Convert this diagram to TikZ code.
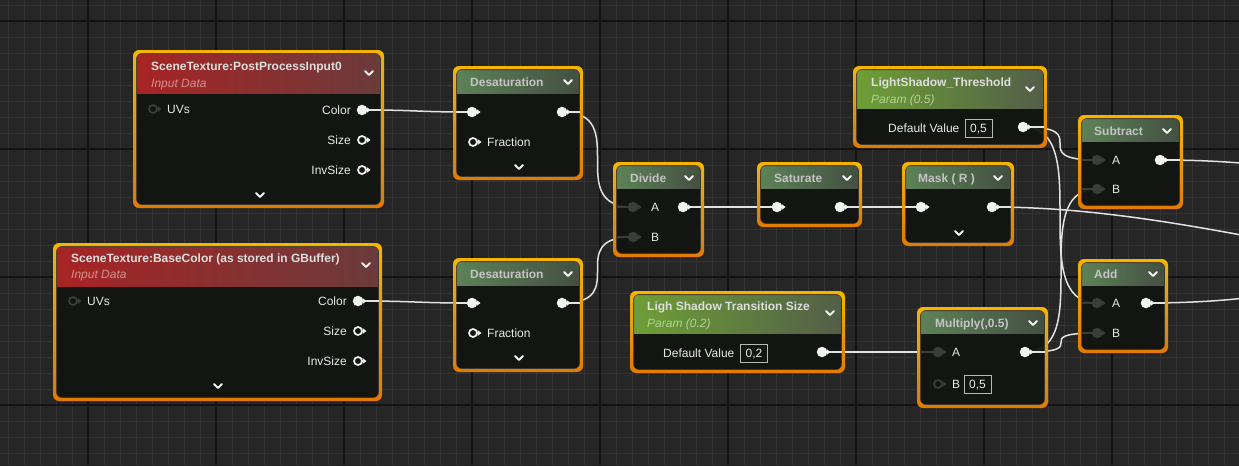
\documentclass[tikz,border=0pt]{standalone}
\usepackage{fontspec}
\setmainfont{Liberation Sans}
\usetikzlibrary{fit}
\definecolor{bgcol}{HTML}{262626}
\definecolor{minorcol}{HTML}{333333}
\definecolor{majorcol}{HTML}{131313}
\definecolor{bodycol}{HTML}{121412}
\definecolor{innerline}{HTML}{3A3731}
\definecolor{bordtop}{HTML}{F6B400}
\definecolor{bordbot}{HTML}{E27A00}
\definecolor{titleG}{HTML}{C4C4C4}
\definecolor{titleP}{HTML}{DEDEDE}
\definecolor{subR}{HTML}{D49090}
\definecolor{subP}{HTML}{B4D494}
\definecolor{lblcol}{HTML}{E8E8E8}
\definecolor{boxcol}{HTML}{B8B8B8}
\definecolor{pinwhite}{HTML}{F2F2F2}
\definecolor{pindark}{HTML}{3C3C3C}
\definecolor{wirecol}{HTML}{E2E2E2}
\definecolor{gL}{HTML}{5E8258}
\definecolor{gR}{HTML}{434F41}
\definecolor{pL}{HTML}{6E9F36}
\definecolor{pM}{HTML}{4F7A2A}
\definecolor{pR}{HTML}{525E48}
\definecolor{rL}{HTML}{A82424}
\definecolor{rM}{HTML}{7C1111}
\definecolor{rR}{HTML}{6B3B3B}
\pgfdeclarelayer{grid}
\pgfdeclarelayer{wires}
\pgfsetlayers{grid,wires,main}
\newcommand\uenode[7]{%
  \node[fit={(#2,#3) (#4,#5)}, inner sep=0pt, outer sep=0pt] (#1) {};
  \fill[bodycol, fill opacity=.92, rounded corners=5pt] (#2+2,#3+2) rectangle (#4-2,#5-2);
  \begin{scope}
    \clip[rounded corners=4pt] (#2+3,#3+3) rectangle (#4-3,#5-3);
    \shade[#7] (#2+3,#3+3) rectangle (#4-3,#6);
  \end{scope}
  \draw[draw=innerline, line width=1pt, rounded corners=4pt] (#2+3.5,#3+3.5) rectangle (#4-3.5,#5-3.5);
  \shade[top color=bordtop, bottom color=bordbot, even odd rule, rounded corners=6pt] (#2,#3) rectangle (#4,#5) (#2+3,#3+3) rectangle (#4-3,#5-3);
}
\newcommand\uepin[4]{%
  \node[#2] (#1) at (#3,#4) {};
  \fill[#2tri] (#3+4.5,#4-3) -- (#3+8.5,#4) -- (#3+4.5,#4+3) -- cycle;
}
\newcommand\chev[2]{\draw[chevst] (#1-4,#2-2) -- (#1,#2+2) -- (#1+4,#2-2);}
\newcommand\stubW[3]{\draw[stubw] (#1,#3) -- (#2,#3);}
\newcommand\stubD[3]{\draw[stubd] (#1,#3) -- (#2,#3);}
\begin{document}
\begin{tikzpicture}[x=1pt,y=-1pt,
  uefont/.style={font=\fontsize{12}{14}\selectfont},
  uetitle/.style={font=\bfseries\fontsize{12}{14}\selectfont, text=titleG, inner sep=0pt, text height=8.6pt, text depth=0pt, anchor=west},
  uesub/.style={font=\itshape\fontsize{12}{14}\selectfont, inner sep=0pt, text height=8.6pt, text depth=0pt, anchor=west},
  pinlbl/.style={font=\fontsize{12}{14}\selectfont, text=lblcol, inner sep=0pt, text height=8.6pt, text depth=0pt},
  valbox/.style={draw=boxcol, line width=0.8pt, font=\fontsize{12}{14}\selectfont, text=lblcol, inner sep=0pt, minimum width=27pt, minimum height=18pt, text height=8.6pt, text depth=0pt},
  hgreen/.style={left color=gL, right color=gR},
  hparam/.style={left color=pL, middle color=pM, right color=pR},
  hred/.style={left color=rL, middle color=rM, right color=rR},
  pW/.style={circle, fill=pinwhite, inner sep=0pt, minimum size=10.5pt},
  pH/.style={circle, draw=pinwhite, line width=1.7pt, inner sep=0pt, minimum size=8pt},
  pD/.style={circle, fill=pindark, inner sep=0pt, minimum size=10.5pt},
  pDH/.style={circle, draw=pindark, line width=1.7pt, inner sep=0pt, minimum size=8pt},
  pWtri/.style={fill=pinwhite}, pHtri/.style={fill=pinwhite},
  pDtri/.style={fill=pindark}, pDHtri/.style={fill=pindark},
  chevst/.style={draw=pinwhite, line width=1.8pt, line cap=round, line join=round},
  stubw/.style={draw=wirecol, line width=1.5pt},
  stubd/.style={draw=pindark, line width=2pt},
  wire/.style={draw=wirecol, line width=1.5pt},
  minorline/.style={draw=minorcol, line width=1pt},
  majorline/.style={draw=majorcol, line width=2pt}]
\useasboundingbox (0,0) rectangle (1239,466);
\begin{pgfonlayer}{grid}
\fill[bgcol] (0,0) rectangle (1239,466);
\foreach \x in {8,24,...,1239} \draw[minorline] (\x,0) -- (\x,466);
\foreach \y in {5,21,...,466} \draw[minorline] (0,\y) -- (1239,\y);
\foreach \x in {88,216,...,1239} \draw[majorline] (\x,0) -- (\x,466);
\foreach \y in {21,149,...,466} \draw[majorline] (0,\y) -- (1239,\y);
\end{pgfonlayer}
% SceneTexture PostProcessInput0
\uenode{pp}{133}{50}{384}{208}{93}{hred}
\node[uetitle, text=titleP] (ppT) at (151,66) {SceneTexture:PostProcessInput0};
\node[uesub, text=subR] (ppS) at (151,83) {Input Data};
\chev{369}{73}
\uepin{ppUV}{pDH}{153}{109}
\node[pinlbl, anchor=west] (ppUVl) at (167,109) {UVs};
\stubW{362}{381}{110}
\uepin{ppColor}{pW}{362}{110}
\node[pinlbl, anchor=east] (ppColorl) at (351,110) {Color};
\uepin{ppSize}{pH}{362}{140}
\node[pinlbl, anchor=east] (ppSizel) at (351,140) {Size};
\uepin{ppInv}{pH}{362}{170}
\node[pinlbl, anchor=east] (ppInvl) at (351,170) {InvSize};
\chev{260}{195}
% SceneTexture BaseColor
\uenode{bc}{53}{243}{382}{401}{286}{hred}
\node[uetitle, text=titleP] (bcT) at (71,258) {SceneTexture:BaseColor (as stored in GBuffer)};
\node[uesub, text=subR] (bcS) at (71,274) {Input Data};
\chev{366}{265}
\uepin{bcUV}{pDH}{73}{301}
\node[pinlbl, anchor=west] (bcUVl) at (87,301) {UVs};
\stubW{358}{379}{301}
\uepin{bcColor}{pW}{358}{301}
\node[pinlbl, anchor=east] (bcColorl) at (347,301) {Color};
\uepin{bcSize}{pH}{358}{331}
\node[pinlbl, anchor=east] (bcSizel) at (347,331) {Size};
\uepin{bcInv}{pH}{358}{361}
\node[pinlbl, anchor=east] (bcInvl) at (347,361) {InvSize};
\chev{218}{386}
% Desaturation 1
\uenode{da}{453}{66}{583}{180}{93}{hgreen}
\node[uetitle] (daT) at (470,82) {Desaturation};
\chev{568}{82}
\stubW{456}{472}{112}
\uepin{daIn}{pW}{472}{112}
\stubW{562}{580}{112}
\uepin{daOut}{pW}{562}{112}
\uepin{daFr}{pH}{473}{142}
\node[pinlbl, anchor=west] (daFrl) at (487,142) {Fraction};
\chev{519}{167}
% Desaturation 2
\uenode{db}{453}{258}{583}{372}{285}{hgreen}
\node[uetitle] (dbT) at (470,274) {Desaturation};
\chev{568}{274}
\stubW{456}{472}{303}
\uepin{dbIn}{pW}{472}{303}
\stubW{562}{580}{303}
\uepin{dbOut}{pW}{562}{303}
\uepin{dbFr}{pH}{473}{333}
\node[pinlbl, anchor=west] (dbFrl) at (487,333) {Fraction};
\chev{519}{358}
% Divide
\uenode{dv}{613}{162}{704}{257}{188}{hgreen}
\node[uetitle] (dvT) at (630,178) {Divide};
\chev{689}{178}
\stubD{616}{633}{207}
\uepin{dvA}{pD}{633}{207}
\node[pinlbl, anchor=west] (dvAl) at (651,207) {A};
\stubW{683}{701}{207}
\uepin{dvOut}{pW}{683}{207}
\stubD{616}{633}{237}
\uepin{dvB}{pD}{633}{237}
\node[pinlbl, anchor=west] (dvBl) at (651,237) {B};
% Saturate
\uenode{sa}{757}{162}{862}{227}{188}{hgreen}
\node[uetitle] (saT) at (774,178) {Saturate};
\chev{847}{178}
\stubW{760}{777}{207}
\uepin{saIn}{pW}{777}{207}
\stubW{840}{859}{207}
\uepin{saOut}{pW}{840}{207}
% Mask
\uenode{mk}{902}{162}{1014}{246}{188}{hgreen}
\node[uetitle] (mkT) at (918,178) {Mask ( R )};
\chev{998}{178}
\stubW{905}{921}{207}
\uepin{mkIn}{pW}{921}{207}
\stubW{992}{1011}{207}
\uepin{mkOut}{pW}{992}{207}
\chev{959}{233}
% LightShadow_Threshold
\uenode{th}{853}{66}{1047}{148}{108}{hparam}
\node[uetitle, text=titleP] (thT) at (871,82) {LightShadow\_Threshold};
\node[uesub, text=subP] (thS) at (871,99) {Param (0.5)};
\chev{1030}{89}
\node[pinlbl, anchor=west] (thDV) at (888,128) {Default Value};
\node[valbox] (thV) at (978.5,128) {0,5};
\stubW{1023}{1044}{127}
\uepin{thOut}{pW}{1023}{127}
% Subtract
\uenode{sb}{1078}{115}{1183}{209}{141}{hgreen}
\node[uetitle] (sbT) at (1094,131) {Subtract};
\chev{1167}{131}
\stubD{1081}{1097}{160}
\uepin{sbA}{pD}{1097}{160}
\node[pinlbl, anchor=west] (sbAl) at (1112,160) {A};
\stubW{1160}{1180}{160}
\uepin{sbOut}{pW}{1160}{160}
\stubD{1081}{1097}{189}
\uepin{sbB}{pD}{1097}{189}
\node[pinlbl, anchor=west] (sbBl) at (1112,189) {B};
% Add
\uenode{ad}{1078}{259}{1168}{353}{285}{hgreen}
\node[uetitle] (adT) at (1094,274) {Add};
\chev{1153}{274}
\stubD{1081}{1097}{303}
\uepin{adA}{pD}{1097}{303}
\node[pinlbl, anchor=west] (adAl) at (1112,303) {A};
\stubW{1146}{1165}{303}
\uepin{adOut}{pW}{1146}{303}
\stubD{1081}{1097}{333}
\uepin{adB}{pD}{1097}{333}
\node[pinlbl, anchor=west] (adBl) at (1112,333) {B};
% Ligh Shadow Transition Size
\uenode{tr}{630}{291}{845}{373}{333}{hparam}
\node[uetitle, text=titleP] (trT) at (647,306) {Ligh Shadow Transition Size};
\node[uesub, text=subP] (trS) at (647,323) {Param (0.2)};
\chev{830}{313}
\node[pinlbl, anchor=west] (trDV) at (663,353) {Default Value};
\node[valbox] (trV) at (754,353) {0,2};
\stubW{822}{842}{352}
\uepin{trOut}{pW}{822}{352}
% Multiply
\uenode{mu}{917}{307}{1048}{408}{333}{hgreen}
\node[uetitle] (muT) at (935,323) {Multiply(,0.5)};
\chev{1033}{323}
\stubD{920}{938}{352}
\uepin{muA}{pD}{938}{352}
\node[pinlbl, anchor=west] (muAl) at (952,352) {A};
\stubW{1025}{1045}{352}
\uepin{muOut}{pW}{1025}{352}
\uepin{muB}{pDH}{938}{384}
\node[pinlbl, anchor=west] (muBl) at (952,384) {B};
\node[valbox] (muV) at (977.5,384) {0,5};
% off-canvas wire ends
\coordinate (offMask) at (1600,285);
\coordinate (offSub) at (1500,190);
\coordinate (offAdd) at (1500,270);
\begin{pgfonlayer}{wires}
\clip (0,0) rectangle (1239,466);
\draw[wire] (ppColor.center) .. controls +(60,0) and +(-60,0) .. (daIn.center);
\draw[wire] (bcColor.center) .. controls +(60,0) and +(-60,0) .. (dbIn.center);
\draw[wire] (daOut.center) .. controls +(71,0) and +(-71,0) .. (dvA.center);
\draw[wire] (dbOut.center) .. controls +(71,0) and +(-71,0) .. (dvB.center);
\draw[wire] (dvOut.center) -- (saIn.center);
\draw[wire] (saOut.center) -- (mkIn.center);
\draw[wire] (mkOut.center) .. controls (1200,207) and (1400,285) .. (offMask);
\draw[wire] (thOut.center) .. controls +(74,0) and +(-74,0) .. (sbA.center);
\draw[wire] (thOut.center) .. controls +(74,0) and +(-74,0) .. (adA.center);
\draw[wire] (muOut.center) .. controls +(72,0) and +(-72,0) .. (sbB.center);
\draw[wire] (muOut.center) .. controls +(72,0) and +(-72,0) .. (adB.center);
\draw[wire] (trOut.center) -- (muA.center);
\draw[wire] (sbOut.center) .. controls (1320,160) and (1340,190) .. (offSub);
\draw[wire] (adOut.center) .. controls (1310,303) and (1330,270) .. (offAdd);
\end{pgfonlayer}
\end{tikzpicture}
\end{document}
